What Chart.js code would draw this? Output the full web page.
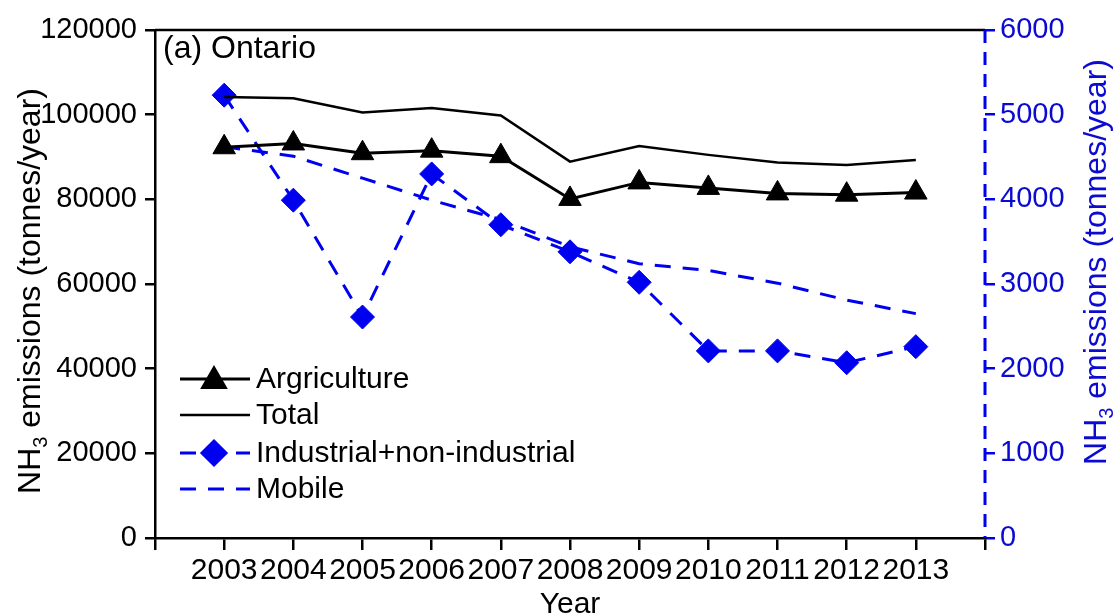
<!DOCTYPE html>
<html>
<head>
<meta charset="utf-8">
<title>NH3 emissions - Ontario</title>
<script src="https://cdn.jsdelivr.net/npm/chart.js@4.4.1/dist/chart.umd.min.js"></script>
<style>
  html, body { margin: 0; padding: 0; background: #fff; }
  #wrap { width: 1113px; height: 616px; position: relative; }
</style>
</head>
<body>
<div id="wrap"><canvas id="nh3Chart"></canvas></div>
<script>
// years shown on the x axis
const years = [2003, 2004, 2005, 2006, 2007, 2008, 2009, 2010, 2011, 2012, 2013];

// left axis series (tonnes/year)
const agriculture = [92300, 93200, 90900, 91500, 90200, 80100, 84000, 82700, 81400, 81100, 81600];
const total = [104200, 103900, 100500, 101600, 99800, 88900, 92600, 90500, 88700, 88100, 89300];

// right axis series (tonnes/year)
const industrial = [5230, 3990, 2610, 4300, 3700, 3380, 3020, 2210, 2210, 2070, 2260];
const mobile = [4620, 4510, 4250, 3990, 3760, 3440, 3240, 3160, 3010, 2810, 2650];

// axis ranges
const xRange = [2002, 2014];
const leftRange = [0, 120000, 20000];
const rightRange = [0, 6000, 1000];

const FONT = "'Liberation Sans', Arial, sans-serif";
const BLUE = '#0000f0';
const BLUE_TEXT = '#0a0ad2';

// pair each value with its year for the linear x scale
function toPoints(values) {
    return values.map((v, i) => ({ x: years[i], y: v }));
}

/**
 * draws "NH3 emissions (tonnes/year)" rotated, with a subscript 3
 */
function drawNH3Title(ctx, baseX, centerY, color) {
    const big = '32px ' + FONT;
    const small = '20px ' + FONT;
    ctx.save();
    ctx.font = big;
    const wNH = ctx.measureText('NH').width;
    const wRest = ctx.measureText(' emissions (tonnes/year)').width;
    ctx.font = small;
    const wSub = ctx.measureText('3').width;
    const totalW = wNH + wSub + wRest;

    ctx.translate(baseX, centerY);
    ctx.rotate(-Math.PI / 2);
    ctx.fillStyle = color;
    ctx.textAlign = 'left';
    ctx.textBaseline = 'alphabetic';
    let x = -totalW / 2;
    ctx.font = big;
    ctx.fillText('NH', x, 0);
    x += wNH;
    ctx.font = small;
    ctx.fillText('3', x, 7);
    x += wSub;
    ctx.font = big;
    ctx.fillText(' emissions (tonnes/year)', x, 0);
    ctx.restore();
}

// titles, frame lines and panel label
const decorPlugin = {
    id: 'decor',
    afterDraw(chart) {
        const ctx = chart.ctx;
        const area = chart.chartArea;

        // top frame line
        ctx.save();
        ctx.strokeStyle = '#000';
        ctx.lineWidth = 2.5;
        ctx.beginPath();
        ctx.moveTo(area.left, area.top);
        ctx.lineTo(area.right, area.top);
        ctx.stroke();

        // dashed right axis line
        ctx.strokeStyle = BLUE;
        ctx.lineWidth = 3;
        ctx.setLineDash([13, 9]);
        ctx.beginPath();
        ctx.moveTo(area.right, area.top);
        ctx.lineTo(area.right, area.bottom);
        ctx.stroke();
        ctx.restore();

        drawNH3Title(ctx, 40, 291, '#000');
        drawNH3Title(ctx, 1106, 262, BLUE_TEXT);

        ctx.save();
        ctx.fillStyle = '#000';
        ctx.font = '32px ' + FONT;
        ctx.textBaseline = 'middle';
        ctx.textAlign = 'left';
        ctx.fillText('(a) Ontario', 163, 49);
        ctx.textAlign = 'center';
        ctx.font = '30px ' + FONT;
        ctx.fillText('Year', 570, 605);
        ctx.restore();
    }
};

// legend drawn inside the plot, lower left
const legendPlugin = {
    id: 'innerLegend',
    afterDraw(chart) {
        const ctx = chart.ctx;
        const items = [
            { label: 'Argriculture', color: '#000', dash: [], width: 3, marker: 'triangle', r: 13 },
            { label: 'Total', color: '#000', dash: [], width: 2.5, marker: null },
            { label: 'Industrial+non-industrial', color: BLUE, dash: [16, 12], width: 3, marker: 'rectRot', r: 12 },
            { label: 'Mobile', color: BLUE, dash: [16, 12], width: 3, marker: null }
        ];
        const rows = [379, 415, 453, 489];
        items.forEach((item, i) => {
            const y = rows[i];
            ctx.save();
            ctx.strokeStyle = item.color;
            ctx.fillStyle = item.color;
            ctx.lineWidth = item.width;
            ctx.setLineDash(item.dash);
            ctx.beginPath();
            ctx.moveTo(180, y);
            ctx.lineTo(250, y);
            ctx.stroke();
            ctx.setLineDash([]);
            if (item.marker) {
                Chart.helpers.drawPoint(ctx, {
                    pointStyle: item.marker, radius: item.r, borderWidth: 1, rotation: 0
                }, 214, item.marker === 'triangle' ? y + 2 : y);
            }
            ctx.fillStyle = '#000';
            ctx.font = '30px ' + FONT;
            ctx.textBaseline = 'middle';
            ctx.textAlign = 'left';
            ctx.fillText(item.label, 256, y + 1);
            ctx.restore();
        });
    }
};

const ctx = document.getElementById('nh3Chart').getContext('2d');
const nh3Chart = new Chart(ctx, {
    type: 'line',
    data: {
        datasets: [
            {
                label: 'Total',
                data: toPoints(total),
                yAxisID: 'y',
                borderColor: '#000',
                borderWidth: 2.5,
                pointRadius: 0,
                tension: 0
            },
            {
                label: 'Argriculture',
                data: toPoints(agriculture),
                yAxisID: 'y',
                borderColor: '#000',
                backgroundColor: '#000',
                borderWidth: 3,
                pointStyle: 'triangle',
                pointRadius: 13,
                pointBorderWidth: 1,
                tension: 0
            },
            {
                label: 'Mobile',
                data: toPoints(mobile),
                yAxisID: 'y2',
                borderColor: BLUE,
                borderWidth: 3,
                borderDash: [16, 12],
                pointRadius: 0,
                tension: 0
            },
            {
                label: 'Industrial+non-industrial',
                data: toPoints(industrial),
                yAxisID: 'y2',
                borderColor: BLUE,
                backgroundColor: BLUE,
                borderWidth: 3,
                borderDash: [16, 12],
                pointStyle: 'rectRot',
                pointRadius: 12,
                pointBorderWidth: 1,
                tension: 0
            }
        ]
    },
    options: {
        responsive: true,
        maintainAspectRatio: false,
        animation: false,
        devicePixelRatio: 1,
        layout: { padding: { top: 30, left: 0, right: 0, bottom: 0 } },
        plugins: {
            legend: { display: false },
            tooltip: { enabled: false }
        },
        scales: {
            x: {
                type: 'linear',
                min: xRange[0],
                max: xRange[1],
                afterFit: (scale) => { scale.height = 78; },
                border: { color: '#000', width: 2.5 },
                grid: { drawOnChartArea: false, color: '#000', lineWidth: 2.5, tickLength: 12 },
                ticks: {
                    stepSize: 1,
                    color: '#000',
                    font: { family: FONT, size: 30 },
                    padding: 3,
                    maxRotation: 0,
                    autoSkip: false,
                    callback: (v) => (v === xRange[0] || v === xRange[1]) ? '' : String(v)
                }
            },
            y: {
                position: 'left',
                min: leftRange[0],
                max: leftRange[1],
                afterFit: (scale) => { scale.width = 155; },
                border: { color: '#000', width: 2.5 },
                grid: { drawOnChartArea: false, color: '#000', lineWidth: 2.5, tickLength: 10 },
                ticks: {
                    stepSize: leftRange[2],
                    color: '#000',
                    font: { family: FONT, size: 29 },
                    padding: 8,
                    callback: (v) => String(v)
                }
            },
            y2: {
                position: 'right',
                min: rightRange[0],
                max: rightRange[1],
                afterFit: (scale) => { scale.width = 128; },
                border: { display: false },
                grid: { drawOnChartArea: false, color: BLUE, lineWidth: 2.5, tickLength: 10 },
                ticks: {
                    stepSize: rightRange[2],
                    color: BLUE_TEXT,
                    font: { family: FONT, size: 29 },
                    padding: 5,
                    callback: (v) => String(v)
                }
            }
        }
    },
    plugins: [decorPlugin, legendPlugin]
});
</script>
</body>
</html>
